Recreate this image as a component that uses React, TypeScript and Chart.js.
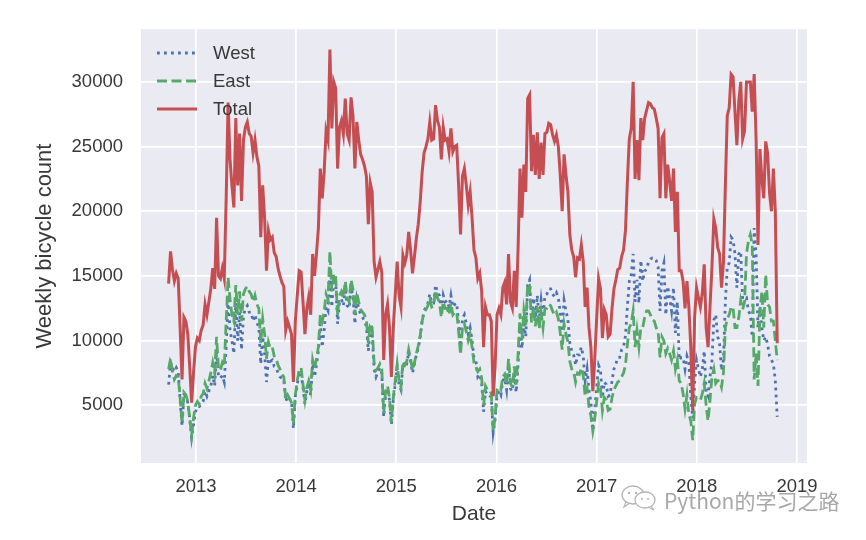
import { useEffect, useRef } from "react";
import { Chart, registerables } from "chart.js";

Chart.register(...registerables);

// ---- data (weekly sums) ----
const weekStart = "2012-09-23";
const yearTicks = [2013, 2014, 2015, 2016, 2017, 2018, 2019];
const countTicks = [5000, 10000, 15000, 20000, 25000, 30000];
const seriesNames = ["West", "East", "Total"];

const westValues = [
  6600, 8300, 7900, 7600, 7900, 7600, 5400, 3400, 5800, 5700,
  5200, 4000, 2500, 3500, 4500, 4900, 4900, 5100, 5300, 6100,
  5700, 6100, 6500, 7300, 6500, 9200, 7200, 7100, 7300, 6800,
  9500, 13400, 10800, 10000, 9000, 12900, 10000, 12200, 9300, 11900,
  12500, 12700, 12200, 12200, 11500, 12000, 11400, 11000, 8200, 10300,
  9000, 6800, 8600, 8400, 8500, 8000, 7900, 7500, 7200, 7100,
  7000, 5300, 5700, 5500, 5300, 3200, 5700, 6600, 7600, 7400,
  6400, 5100, 6100, 6500, 5800, 8200, 7200, 8100, 9200, 11300,
  9500, 10800, 12600, 12300, 15600, 12600, 14800, 14600, 11300, 13000,
  13200, 12700, 14100, 12700, 12500, 14100, 13400, 11300, 13200, 12500,
  12000, 11800, 11500, 11100, 9200, 10900, 10500, 7800, 7200, 7600,
  7900, 7500, 4100, 5900, 6300, 5400, 3500, 5400, 6600, 7900,
  6600, 6200, 8200, 7900, 8200, 9100, 8400, 7500, 8200, 8900,
  9400, 10300, 11500, 12300, 12600, 12900, 13600, 12900, 12900, 14300,
  13700, 13500, 12200, 13500, 13000, 13100, 12600, 13500, 12600, 12800,
  12900, 11300, 9300, 11700, 12000, 11300, 10500, 11000, 10000, 8700,
  8400, 7200, 7400, 6700, 4500, 6100, 5800, 5800, 5600, 2900,
  3900, 5800, 6100, 5800, 6900, 7100, 6200, 8100, 6300, 6100,
  7400, 6000, 8200, 11200, 9400, 11300, 10300, 14300, 14700, 11700,
  13300, 11700, 13500, 11600, 13100, 11800, 13500, 13600, 14000, 14000,
  13600, 13400, 13700, 13300, 12200, 10700, 13100, 12300, 11600, 9800,
  9200, 8900, 8100, 8900, 8900, 9500, 8800, 6900, 7800, 6100,
  5300, 3100, 4600, 6400, 8100, 7700, 5600, 6800, 6600, 5700,
  5800, 6900, 7800, 8200, 8700, 8700, 9300, 9500, 10400, 12600,
  14600, 15100, 16700, 13000, 14700, 12900, 16200, 14600, 15400, 15500,
  16100, 16300, 16400, 16400, 16200, 15700, 12300, 15400, 16000, 12000,
  14200, 13300, 12300, 14100, 10600, 13000, 8500, 8700, 8700, 7800,
  8800, 8300, 5700, 4000, 6700, 8500, 7800, 7200, 7800, 9200,
  6000, 5700, 7200, 8400, 11600, 12000, 10300, 9800, 7700, 8500,
  13000, 15700, 16000, 18000, 17800, 16700, 14100, 16700, 16900, 13200,
  13200, 13300, 12300, 12000, 10300, 18700, 16600, 11000, 12500, 11000,
  10000, 10300, 9700, 8800, 8500, 8200, 6900, 4100,
];

const eastValues = [
  7800, 8600, 7600, 7000, 7300, 7200, 5600, 3600, 6000, 5800,
  5300, 4000, 2700, 4000, 5000, 5300, 5100, 5700, 5900, 6700,
  6300, 6900, 7500, 8300, 7500, 10300, 7800, 7700, 8300, 8000,
  11500, 14900, 13200, 12000, 11500, 14300, 12000, 13800, 11500, 13600,
  14000, 14200, 13800, 13600, 13000, 13500, 12800, 12500, 9800, 11700,
  10500, 8600, 9900, 9400, 9500, 8800, 8600, 8100, 7800, 7400,
  7200, 5500, 5800, 5500, 5200, 3600, 5800, 6900, 7800, 7900,
  6600, 5400, 6400, 6900, 6200, 8500, 7800, 8600, 9500, 12000,
  11500, 12200, 13600, 13200, 16900, 13800, 15200, 14900, 12000, 13500,
  13800, 13300, 14600, 13300, 13000, 14700, 14000, 12000, 13700, 13000,
  12400, 12200, 12000, 11600, 9800, 11300, 11000, 8300, 7700, 7900,
  8200, 7800, 4400, 6100, 6500, 5600, 3700, 5600, 6900, 8200,
  6900, 6400, 8400, 8100, 8400, 9300, 8600, 7700, 8300, 9000,
  9600, 10400, 11500, 12200, 12400, 12700, 13300, 12600, 12700, 13900,
  13300, 13000, 11800, 13000, 12500, 12500, 12000, 12900, 12000, 12200,
  12200, 10700, 8900, 11000, 11300, 10700, 10000, 10500, 9500, 8300,
  8000, 7600, 7800, 7100, 5000, 6500, 6200, 6200, 5900, 3000,
  4100, 6200, 6400, 6200, 7200, 7400, 6600, 8600, 6700, 6400,
  8000, 6600, 9000, 12100, 10100, 12300, 11200, 14400, 14300, 11400,
  12600, 11100, 12600, 10900, 12200, 11000, 12500, 12500, 12800, 12700,
  12300, 12000, 12200, 11700, 10600, 9300, 11300, 10500, 9900, 8400,
  7800, 7600, 6800, 7500, 7400, 7900, 7300, 5700, 6300, 4900,
  4200, 3000, 3900, 5300, 6700, 6300, 4600, 5600, 5400, 4600,
  4700, 5600, 6200, 6500, 6800, 6900, 7200, 7500, 8100, 9700,
  11000, 11300, 12300, 9500, 10800, 9500, 11000, 11000, 11800, 12300,
  12300, 12000, 11600, 11500, 11000, 10700, 8700, 10300, 10000, 9000,
  9400, 9000, 8500, 9200, 7800, 8500, 6900, 6700, 5900, 4700,
  5800, 4300, 3800, 2300, 5100, 5600, 5500, 5400, 5900, 6700,
  5000, 3800, 5400, 7200, 7800, 6700, 6900, 6900, 6400, 7500,
  11000, 11700, 12000, 12600, 12600, 11000, 11000, 11800, 13100, 12400,
  13000, 16700, 17700, 18200, 17400, 7000, 9000, 6500, 12300, 13800,
  11000, 15100, 12800, 12600, 11500, 11500, 10000, 8500,
];

const totalValues = [
  14400, 16900, 15500, 14600, 15200, 14800, 11000, 7000, 11800, 11500,
  10500, 8000, 5200, 7500, 9500, 10200, 10000, 10800, 11200, 12800,
  12000, 13000, 14000, 15600, 14000, 19500, 15000, 14800, 15600, 14800,
  21000, 28400, 24000, 22000, 20300, 27200, 22000, 26000, 20800, 25500,
  26500, 26900, 26000, 25800, 24500, 25500, 24200, 23500, 18000, 22000,
  19500, 15400, 18500, 17800, 18000, 16800, 16500, 15600, 15000, 14500,
  14200, 10800, 11500, 11000, 10500, 6800, 11500, 13500, 15400, 15300,
  13000, 10500, 12500, 13400, 12000, 16700, 15000, 16700, 18700, 23300,
  21000, 23000, 26200, 25500, 32500, 26400, 30000, 29500, 23300, 26500,
  27000, 26000, 28700, 26000, 25500, 28800, 27400, 23300, 26900, 25500,
  24400, 24000, 23500, 22700, 19000, 22200, 21500, 16100, 14900, 15500,
  16100, 15300, 8500, 12000, 12800, 11000, 7200, 11000, 13500, 16100,
  13500, 12600, 16600, 16000, 16600, 18400, 17000, 15200, 16500, 17900,
  19000, 20700, 23000, 24500, 25000, 25600, 26900, 25500, 25600, 28200,
  27000, 26500, 24000, 26500, 25500, 25600, 24600, 26400, 24600, 25000,
  25100, 22000, 18200, 22700, 23300, 22000, 20500, 21500, 19500, 17000,
  16400, 14800, 15200, 13800, 9500, 12600, 12000, 12000, 11500, 5700,
  8000, 12000, 12500, 12000, 14100, 14500, 12800, 16700, 13000, 12500,
  15400, 12600, 17200, 23300, 19500, 23600, 21500, 28700, 29000, 23100,
  25900, 22800, 26100, 22500, 25300, 22800, 26000, 26100, 26800, 26700,
  25900, 25400, 25900, 25000, 22800, 20000, 24400, 22800, 21500, 18200,
  17000, 16500, 14900, 16400, 16300, 17400, 16100, 12600, 14100, 11000,
  9500, 6100, 8500, 11700, 14800, 14000, 10200, 12400, 12000, 10300,
  10500, 12500, 14000, 14700, 15500, 15600, 16500, 17000, 18500, 22300,
  25600, 26400, 30000, 22500, 25500, 22400, 27200, 25500, 27200, 27800,
  28400, 28300, 28000, 27900, 27200, 26400, 21000, 25700, 26000, 21000,
  23600, 22300, 20800, 23300, 18400, 21500, 15400, 15400, 14600, 12500,
  14600, 12600, 9500, 4600, 11800, 14100, 13300, 12600, 13700, 15900,
  11000, 9500, 12600, 15600, 19400, 18700, 17200, 16700, 14100, 16000,
  22000, 27400, 28000, 30600, 30400, 27700, 25100, 28500, 30000, 25600,
  26200, 30000, 30000, 30000, 27700, 30600, 25600, 17400, 24800, 22500,
  21000, 25400, 24500, 21400, 20000, 23300, 20000, 9800,
];

// ---- helpers ----
const DAY_MS = 86400000;
const startMs = Date.parse(weekStart + "T00:00:00Z");
function toDecimalYear(ms: number): number {
  const d = new Date(ms);
  const y = d.getUTCFullYear();
  const s = Date.UTC(y, 0, 1);
  const e = Date.UTC(y + 1, 0, 1);
  return y + (ms - s) / (e - s);
}
const weekYears = totalValues.map((_, i) => toDecimalYear(startMs + i * 7 * DAY_MS));
const toPoints = (vals: number[]) => vals.map((v, i) => ({ x: weekYears[i], y: v }));

const FONT = "'Liberation Sans', Arial, sans-serif";
const TEXT = "#383838";

const bgPlugin = {
  id: "panelBg",
  beforeDraw(chart: any) {
    const { ctx, chartArea: a } = chart;
    ctx.save();
    ctx.fillStyle = "#EAEAF2";
    ctx.fillRect(a.left, a.top, a.right - a.left, a.bottom - a.top);
    ctx.restore();
  },
};

const legendPlugin = {
  id: "insideLegend",
  afterDatasetsDraw(chart: any) {
    const { ctx } = chart;
    const rows = [53, 81, 109];
    ctx.save();
    chart.data.datasets.forEach((ds: any, k: number) => {
      const y = rows[k];
      ctx.beginPath();
      ctx.strokeStyle = ds.borderColor;
      ctx.lineWidth = ds.borderWidth;
      ctx.setLineDash(ds.borderDash || []);
      ctx.moveTo(157, y);
      ctx.lineTo(197, y);
      ctx.stroke();
      ctx.setLineDash([]);
      ctx.fillStyle = TEXT;
      ctx.font = `18.5px ${FONT}`;
      ctx.textAlign = "left";
      ctx.textBaseline = "middle";
      ctx.fillText(ds.label, 213, y + 1);
    });
    ctx.restore();
  },
};

export default function App() {
  const ref = useRef<HTMLCanvasElement | null>(null);

  useEffect(() => {
    if (!ref.current) return;
    const chart = new Chart(ref.current, {
      type: "line",
      data: {
        datasets: [
          {
            label: seriesNames[0],
            data: toPoints(westValues),
            borderColor: "#4C72B0",
            borderWidth: 2.8,
            borderDash: [2.8, 4.2],
            pointRadius: 0,
            tension: 0,
            order: 2,
          },
          {
            label: seriesNames[1],
            data: toPoints(eastValues),
            borderColor: "#55A868",
            borderWidth: 2.8,
            borderDash: [10, 4.5],
            pointRadius: 0,
            tension: 0,
            order: 1,
          },
          {
            label: seriesNames[2],
            data: toPoints(totalValues),
            borderColor: "#C44E52",
            borderWidth: 3,
            pointRadius: 0,
            tension: 0,
            order: 0,
          },
        ],
      },
      options: {
        animation: false,
        responsive: false,
        maintainAspectRatio: false,
        devicePixelRatio: 1,
        layout: { padding: { left: 0, top: 27, right: 59, bottom: 0 } },
        plugins: {
          legend: { display: false },
          tooltip: { enabled: false },
        },
        scales: {
          x: {
            type: "linear",
            min: 2012.451,
            max: 2019.1,
            afterBuildTicks: (s: any) => {
              s.ticks = yearTicks.map((v) => ({ value: v }));
            },
            afterFit: (s: any) => {
              s.height = 77;
            },
            grid: { color: "#ffffff", lineWidth: 1.7, drawTicks: false },
            border: { display: false },
            ticks: {
              padding: 13,
              maxRotation: 0,
              autoSkip: false,
              color: TEXT,
              font: { family: FONT, size: 18.5 },
              callback: (v: any) => String(v),
            },
            title: {
              display: true,
              text: "Date",
              color: TEXT,
              font: { family: FONT, size: 21 },
              padding: { top: 0, bottom: 13 },
            },
          },
          y: {
            type: "linear",
            min: 540,
            max: 34080,
            afterBuildTicks: (s: any) => {
              s.ticks = countTicks.map((v) => ({ value: v }));
            },
            afterFit: (s: any) => {
              s.width = 141;
            },
            grid: { color: "#ffffff", lineWidth: 1.7, drawTicks: false },
            border: { display: false },
            ticks: {
              padding: 18,
              color: TEXT,
              font: { family: FONT, size: 18.5 },
              callback: (v: any) => String(v),
            },
            title: {
              display: true,
              text: "Weekly bicycle count",
              color: TEXT,
              font: { family: FONT, size: 22 },
              padding: { top: 32, bottom: 0 },
            },
          },
        },
      },
      plugins: [bgPlugin, legendPlugin],
    } as any);
    return () => chart.destroy();
  }, []);

  return (
    <div style={{ position: "absolute", left: 0, top: 0, width: 866, height: 540, background: "#ffffff" }}>
      <canvas ref={ref} width={866} height={540} style={{ display: "block", filter: "blur(0.4px)" }} />
      <svg
        width={38}
        height={28}
        style={{ position: "absolute", left: 620, top: 484 }}
        viewBox="0 0 38 28"
      >
        <ellipse cx={13} cy={11} rx={11} ry={9} fill="none" stroke="#b5b5b5" strokeWidth={1.3} />
        <path d="M6 18 L4 23 L10 19" fill="none" stroke="#b5b5b5" strokeWidth={1.2} />
        <ellipse cx={25} cy={16} rx={10} ry={8} fill="#ffffff" stroke="#b5b5b5" strokeWidth={1.3} />
        <path d="M31 22 L34 26 L28 23" fill="none" stroke="#b5b5b5" strokeWidth={1.2} />
        <circle cx={9} cy={9} r={1.2} fill="#b5b5b5" />
        <circle cx={16} cy={9} r={1.2} fill="#b5b5b5" />
        <circle cx={22} cy={15} r={1} fill="#b5b5b5" />
        <circle cx={28} cy={15} r={1} fill="#b5b5b5" />
      </svg>
      <div
        style={{
          position: "absolute",
          left: 664,
          top: 487,
          fontFamily: "'Noto Sans CJK SC', 'Noto Sans', sans-serif",
          fontSize: 21,
          lineHeight: "26px",
          color: "#a8a8a8",
          whiteSpace: "nowrap",
          textShadow: "0 0 2px #ffffff, 0 0 2px #ffffff",
        }}
      >
        Python的学习之路
      </div>
    </div>
  );
}
